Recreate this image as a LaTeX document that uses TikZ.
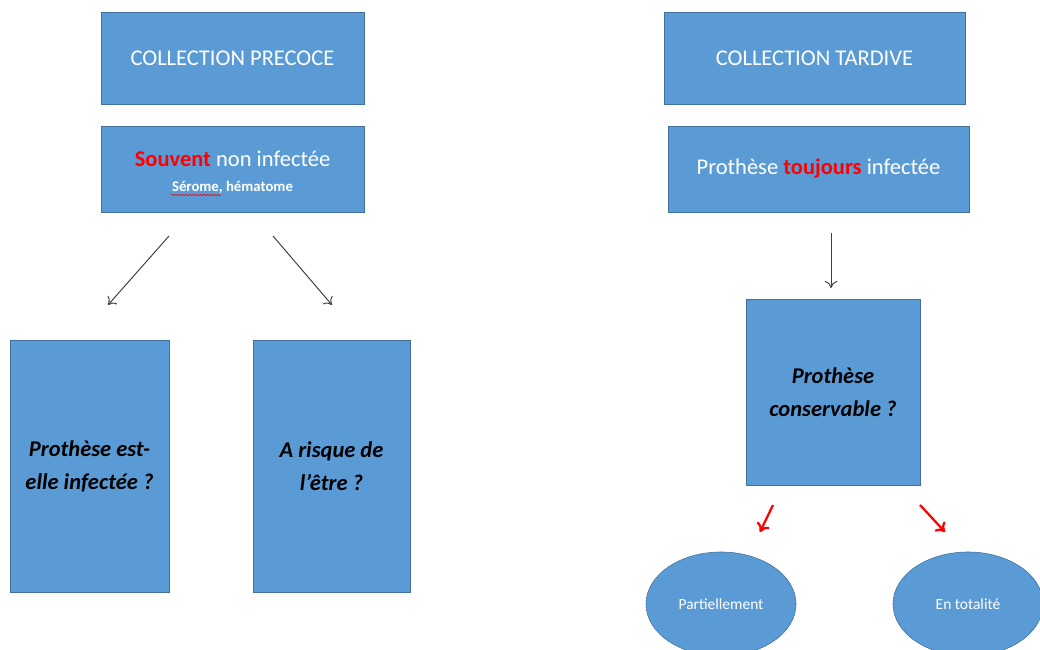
\documentclass[tikz,border=0pt]{standalone}
\usepackage{fontspec}
\setmainfont{Carlito}
\usetikzlibrary{arrows.meta}
\usetikzlibrary{shapes.geometric}
\usetikzlibrary{decorations.pathmorphing}
\definecolor{boxblue}{HTML}{5B9BD5}
\definecolor{boxline}{HTML}{41719C}
\definecolor{arrowgray}{HTML}{404040}
\tikzset{b/.style={draw=boxline, fill=boxblue, text=white, inner sep=0pt, align=center}}
\tikzset{h/.style={font=\fontsize{16}{16}\selectfont}}
\tikzset{q/.style={font=\fontsize{16}{23.4}\selectfont\bfseries\itshape, text=black}}
\tikzset{s/.style={font=\fontsize{11}{11}\selectfont}}
\tikzset{g/.style={-{To[length=5pt, width=9pt]}, draw=arrowgray, line width=.7pt}}
\tikzset{r/.style={-{To[length=6pt, width=10pt]}, draw=red, line width=1.6pt}}

\begin{document}
\begin{tikzpicture}[x=0.025cm, y=-0.025cm]
    \useasboundingbox (0,0) rectangle (1040,650);
    % early collection
    \node[b, h, minimum width=6.575cm, minimum height=2.3cm] (pre) at (232.5,58) {COLLECTION PRECOCE};
    \node[b, h, minimum width=6.575cm, minimum height=2.15cm] (sou) at (232.5,169)
      {\rule{0pt}{16pt}\textcolor{red}{\bfseries Souvent} non infectée\\[2pt]
       {\fontsize{10.5}{12}\selectfont\bfseries Sérome, hématome}};
    \draw[red, decorate, decoration={snake, amplitude=.6pt, segment length=2.5pt}]
      (171,195) -- (221,195);
    \node[b, q, minimum width=3.975cm, minimum height=6.3cm] (inf) at (89.5,466)
      {Prothèse est-\\elle infectée ?};
    \node[b, q, minimum width=3.925cm, minimum height=6.3cm] (ris) at (331.5,466)
      {A risque de\\l’être ?};
    \coordinate (a1s) at (169,236);
    \coordinate (a1e) at (108,305);
    \coordinate (a2s) at (273,236);
    \coordinate (a2e) at (332,305);
    \draw[g] (a1s) -- (a1e);
    \draw[g] (a2s) -- (a2e);
    % late collection
    \node[b, h, minimum width=7.525cm, minimum height=2.3cm] (tar) at (814.5,58) {COLLECTION TARDIVE};
    \node[b, h, minimum width=7.525cm, minimum height=2.15cm] (tou) at (818.5,169)
      {Prothèse \textcolor{red}{\bfseries toujours} infectée};
    \node[b, q, minimum width=4.35cm, minimum height=4.65cm] (con) at (833,392)
      {Prothèse\\conservable ?};
    \coordinate (a3s) at (831,233);
    \coordinate (a3e) at (831,288);
    \draw[g] (a3s) -- (a3e);
    \node[b, s, ellipse, minimum width=3.75cm, minimum height=2.6cm] (par) at (721,604) {Partiellement};
    \node[b, s, ellipse, minimum width=3.75cm, minimum height=2.6cm] (tot) at (968,604) {En totalité};
    \coordinate (r1s) at (773,505);
    \coordinate (r1e) at (760,532);
    \coordinate (r2s) at (920,505);
    \coordinate (r2e) at (945,532);
    \draw[r] (r1s) -- (r1e);
    \draw[r] (r2s) -- (r2e);
\end{tikzpicture}
\end{document}
